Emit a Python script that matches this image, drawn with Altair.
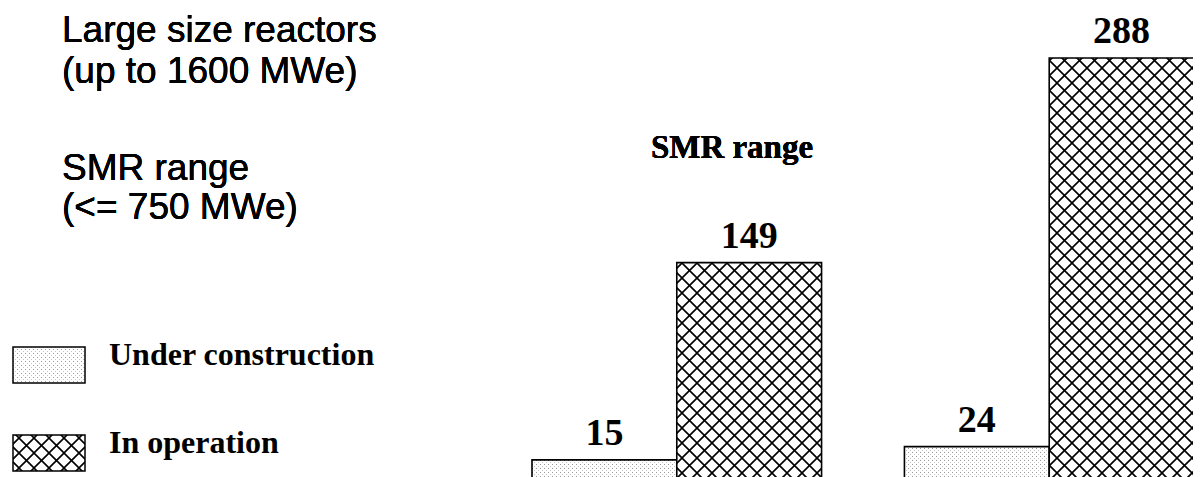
import altair as alt
import pandas as pd
import jinja2

# ---- data ----
groups = ["SMR range", "SMR range", "Large size reactors", "Large size reactors"]
status = ["Under construction", "In operation", "Under construction", "In operation"]
counts = [15, 149, 24, 288]

group_order = ["SMR range", "Large size reactors"]
status_order = ["Under construction", "In operation"]

note_large = ["Large size reactors", "(up to 1600 MWe)"]
note_smr = ["SMR range", "(<= 750 MWe)"]
group_title = "SMR range"

df = pd.DataFrame({"group": groups, "status": status, "count": counts})

SERIF = "Liberation Serif"
SANS = "Liberation Sans"

x_enc = alt.X("group:N", sort=group_order, axis=None,
              scale=alt.Scale(paddingInner=0.2225, paddingOuter=0))
xo_enc = alt.XOffset("status:N", sort=status_order,
                     scale=alt.Scale(paddingInner=0, paddingOuter=0))
y_enc = alt.Y("count:Q", axis=None, scale=alt.Scale(domain=[0, 322], nice=False))

bars = alt.Chart(df).mark_bar(stroke="black", strokeWidth=1.6).encode(
    x=x_enc,
    xOffset=xo_enc,
    y=y_enc,
    fill=alt.Fill(
        "status:N",
        sort=status_order,
        scale=alt.Scale(domain=status_order, range=["url(#dots)", "url(#xhatch)"]),
        legend=alt.Legend(
            title=None,
            orient="none",
            legendX=-520,
            legendY=320,
            padding=0,
            symbolType="M-1,-0.5H1V0.5H-1Z",
            symbolSize=5184,
            symbolStrokeColor="black",
            symbolStrokeWidth=1.5,
            symbolOpacity=1,
            labelFont=SERIF,
            labelFontWeight="bold",
            labelFontSize=32,
            labelColor="black",
            labelOffset=23,
            labelBaseline="alphabetic",
            rowPadding=30,
            labelLimit=400,
        ),
    ),
)

labels = alt.Chart(df).mark_text(
    font=SERIF, fontWeight="bold", fontSize=38, color="black",
    baseline="alphabetic", dy=-15,
).encode(x=x_enc, xOffset=xo_enc, y=y_enc, text="count:Q")

title_txt = alt.Chart(df).mark_text(
    font=SERIF, fontWeight="bold", fontSize=33, color="black",
    align="center", baseline="alphabetic",
).encode(x=alt.value(200), y=alt.value(150), text=alt.value(group_title))

note1 = alt.Chart(df).mark_text(
    font=SANS, fontSize=37, color="black", align="left",
    baseline="alphabetic", lineHeight=41,
).encode(x=alt.value(-470), y=alt.value(34), text=alt.value(note_large))

note2 = alt.Chart(df).mark_text(
    font=SANS, fontSize=37, color="black", align="left",
    baseline="alphabetic", lineHeight=39,
).encode(x=alt.value(-470), y=alt.value(172), text=alt.value(note_smr))

chart = alt.layer(bars, labels, title_txt, note1, note2).properties(
    width=662,
    height=474,
    padding={"left": 524, "top": 0, "right": 0, "bottom": 0},
    autosize=alt.AutoSizeParams(type="none"),
).configure_view(stroke=None)

TEMPLATE = jinja2.Template("""<!DOCTYPE html>
<html>
<head>
  <style>
    body { overflow: hidden; }
  </style>
  <script type="text/javascript" src="{{ base_url }}/vega@{{ vega_version }}"></script>
  <script type="text/javascript" src="{{ base_url }}/vega-lite@{{ vegalite_version }}"></script>
  <script type="text/javascript" src="{{ base_url }}/vega-embed@{{ vegaembed_version }}"></script>
</head>
<body>
<svg width="0" height="0" style="position:absolute">
  <defs>
    <pattern id="dots" patternUnits="userSpaceOnUse" width="4" height="4">
      <rect width="4" height="4" fill="white"/>
      <rect x="0" y="0" width="1" height="1" fill="#9a9a9a"/>
      <rect x="2" y="2" width="1" height="1" fill="#c4c4c4"/>
    </pattern>
    <pattern id="xhatch" patternUnits="userSpaceOnUse" width="15" height="15">
      <rect width="15" height="15" fill="white"/>
      <path d="M0,0L15,15M15,0L0,15" stroke="black" stroke-width="1.6" fill="none"/>
    </pattern>
  </defs>
</svg>
<div id="{{ output_div }}"></div>
<script type="text/javascript">
  (function(vegaEmbed) {
    var spec = {{ spec }};
    var embedOpt = {{ embed_options }};
    function showError(el, error){
      el.innerHTML = ('<div style="color:red;"><p>JavaScript Error: ' + error.message + '</p></div>');
      throw error;
    }
    const el = document.getElementById('{{ output_div }}');
    vegaEmbed("#{{ output_div }}", spec, embedOpt).catch(error => showError(el, error));
  })(vegaEmbed);
</script>
</body>
</html>
""")

chart.save("out.html", embed_options={"renderer": "svg", "actions": False}, template=TEMPLATE)
